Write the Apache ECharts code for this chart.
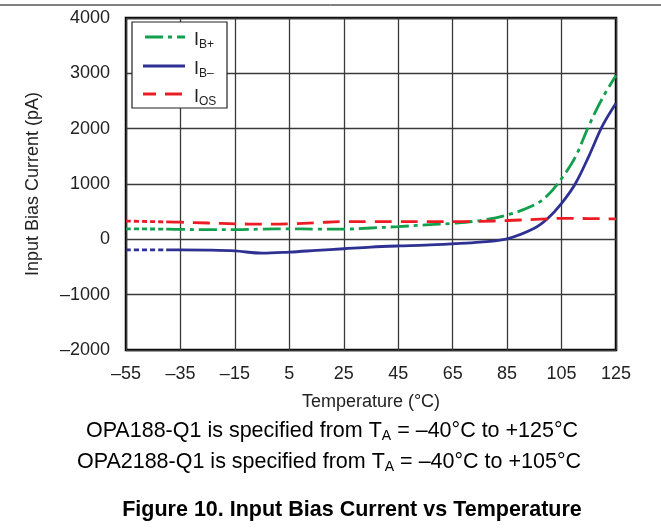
<!DOCTYPE html>
<html><head><meta charset="utf-8">
<script src="https://cdn.jsdelivr.net/npm/echarts@6/dist/echarts.min.js"></script>
<style>html,body{margin:0;padding:0;background:#fff}#c{width:661px;height:529px}</style>
</head><body><div id="c"></div>
<script>
const tempMain = [-40,-35,-25,-15,-5,5,15,25,35,45,55,65,75,85,95,100,105,110,115,120,125];
const ibPlus  = [185,180,175,175,185,190,185,185,205,230,260,290,340,440,620,800,1100,1480,2050,2550,2960];
const ibMinus = [-190,-190,-195,-210,-250,-230,-200,-170,-140,-120,-105,-80,-50,10,200,380,650,1000,1500,2050,2460];
const ios     = [315,310,295,280,275,280,300,320,320,320,320,320,325,340,360,370,380,378,375,372,370];
const tempDot = [-55,-40];
const ibPlusDot = [190,185];
const ibMinusDot = [-190,-190];
const iosDot = [330,315];
const legendNames = ['B+','B\u2013','OS'];

const GREEN='#12a04c', BLUE='#2e3192', RED='#ed1c24';
const DASH_G=[18,5,4,5], DASH_R=[17,9], DOT=[5,3];
const pairs=(xs,ys)=>xs.map((x,i)=>[x,ys[i]]);
const fmt=v=>String(v).replace('-','\u2013');
const chart=echarts.init(document.getElementById('c'));
const F='Liberation Sans, Arial, sans-serif';
function line(name,xs,ys,color,type){
  return {name:name,type:'line',data:pairs(xs,ys),smooth:0.35,showSymbol:false,symbol:'none',
    lineStyle:{color:color,width:2.8,type:type,cap:'butt'},itemStyle:{color:color},z:3};
}
const legendItems=[[GREEN,DASH_G,37],[BLUE,null,66],[RED,DASH_R,94]];
const legendGraphic=[{type:'rect',shape:{x:132,y:22,width:95,height:86},style:{fill:'#fff',stroke:'#222',lineWidth:1.2},z:10}];
legendItems.forEach((it,i)=>{
  legendGraphic.push({type:'line',shape:{x1:143,y1:it[2],x2:185,y2:it[2]},style:{stroke:it[0],lineWidth:2.8,lineDash:it[1]||null,lineDashOffset:it[1]?(i===0?-2:4):0},z:11});
  legendGraphic.push({type:'text',x:194,y:it[2]+3,z:11,style:{text:'{m|I}{s|'+legendNames[i]+'}',textVerticalAlign:'middle',
    rich:{m:{fontSize:18,fontFamily:F,fill:'#222'},s:{fontSize:12,fontFamily:F,fill:'#222',padding:[10,0,0,0]}}}});
});
const noteRich={m:{fontSize:21.5,fontFamily:F,fill:'#000'},s:{fontSize:14,fontFamily:F,fill:'#000',padding:[11,0,0,0]}};
chart.setOption({
  animation:false,
  grid:{left:126,top:18,right:45,bottom:179,show:true,borderColor:'#000',borderWidth:2.5,backgroundColor:'transparent'},
  xAxis:{type:'value',min:-55,max:125,interval:20,
    axisLine:{show:false},axisTick:{show:false},
    axisLabel:{color:'#222',fontSize:18,fontFamily:F,margin:15,formatter:fmt},
    splitLine:{show:true,lineStyle:{color:'#3a3a3a',width:1.3}},
    name:'Temperature (\u00b0C)',nameLocation:'middle',nameGap:43,nameTextStyle:{color:'#222',fontSize:18,fontFamily:F}},
  yAxis:{type:'value',min:-2000,max:4000,interval:1000,
    axisLine:{show:false},axisTick:{show:false},
    axisLabel:{color:'#222',fontSize:18,fontFamily:F,margin:16,formatter:fmt},
    splitLine:{show:true,lineStyle:{color:'#3a3a3a',width:1.3}},
    name:'Input Bias Current (pA)',nameLocation:'middle',nameGap:84,nameTextStyle:{color:'#222',fontSize:18,fontFamily:F}},
  series:[
    line('IB+',tempMain,ibPlus,GREEN,DASH_G),
    line('IB-',tempMain,ibMinus,BLUE,'solid'),
    line('IOS',tempMain,ios,RED,DASH_R),
    line('d1',tempDot,ibPlusDot,GREEN,DOT),
    line('d2',tempDot,ibMinusDot,BLUE,DOT),
    line('d3',tempDot,iosDot,RED,DOT)
  ],
  graphic:[
    {type:'line',shape:{x1:0,y1:5,x2:661,y2:5},style:{stroke:'#000',lineWidth:1}},
    ...legendGraphic,
    {type:'text',x:332,y:431,style:{text:'{m|OPA188-Q1 is specified from T}{s|A}{m| = \u201340\u00b0C to +125\u00b0C}',textAlign:'center',textVerticalAlign:'middle',rich:noteRich}},
    {type:'text',x:329,y:462,style:{text:'{m|OPA2188-Q1 is specified from T}{s|A}{m| = \u201340\u00b0C to +105\u00b0C}',textAlign:'center',textVerticalAlign:'middle',rich:noteRich}},
    {type:'text',x:352,y:510,style:{text:'Figure 10. Input Bias Current vs Temperature',textAlign:'center',textVerticalAlign:'middle',fontSize:21.5,fontWeight:'bold',fontFamily:F,fill:'#000'}}
  ]
});
</script></body></html>
